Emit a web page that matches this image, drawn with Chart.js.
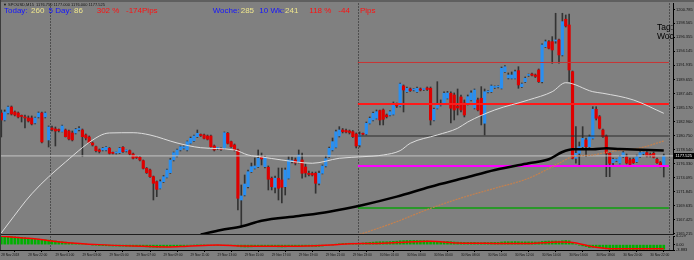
<!DOCTYPE html>
<html>
<head>
<meta charset="utf-8">
<script src="https://cdn.jsdelivr.net/npm/chart.js@4.4.1/dist/chart.umd.min.js"></script>
<style>
  html, body { margin: 0; padding: 0; background: #808080; }
  #wrap { position: relative; width: 694px; height: 260px; overflow: hidden; background: #808080; }
  #wrap canvas { position: absolute; left: 0; }
  #main { top: 0; }
  #sub { top: 235px; }
  #strip { position: absolute; left: 0; top: 0; width: 694px; height: 2px; background: #5f5f5f; }
  #edge { position: absolute; left: 0; top: 0; width: 1px; height: 250px; background: #3c3c3c; }
</style>
</head>
<body>
<div id="wrap">
  <canvas id="main" width="694" height="235"></canvas>
  <canvas id="sub" width="694" height="25"></canvas>
  <div id="strip"></div>
  <div id="edge"></div>
</div>
<script>
// M15 bars, 28 Nov 2018 evening .. 30 Nov 2018 close
var timeLabels = ["28 Nov 2018", "28 Nov 22:00", "29 Nov 01:00", "29 Nov 03:00", "29 Nov 05:00",
  "29 Nov 07:00", "29 Nov 09:00", "29 Nov 11:00", "29 Nov 13:00", "29 Nov 15:00", "29 Nov 17:00",
  "29 Nov 19:00", "29 Nov 21:00", "29 Nov 23:00", "30 Nov 01:00", "30 Nov 03:00", "30 Nov 05:00",
  "30 Nov 08:00", "30 Nov 10:00", "30 Nov 12:00", "30 Nov 14:00", "30 Nov 16:00", "30 Nov 18:00",
  "30 Nov 20:00", "30 Nov 22:00"];
var timeLabelBars = [0, 8, 16, 24, 32, 40, 48, 56, 64, 72, 80, 88, 96, 104, 112, 120, 128, 136,
  144, 152, 160, 168, 176, 184, 192];

var opens = [
  1184.34, 1183.23, 1184.34, 1185.29, 1184.50, 1184.34, 1183.87, 1183.71, 1183.55, 1183.55,
  1182.76, 1183.71, 1184.34, 1183.71, 1180.06, 1181.96, 1181.80, 1181.64, 1181.40, 1181.64,
  1181.48, 1181.17, 1181.17, 1181.72, 1181.64, 1180.85, 1180.53, 1179.58, 1178.99, 1178.47,
  1178.47, 1178.47, 1178.74, 1177.99, 1177.99, 1178.04, 1178.90, 1178.31, 1178.36,
  1177.83, 1177.36, 1177.31, 1176.77, 1175.56, 1175.29, 1174.23, 1173.44, 1172.39, 1173.44,
  1174.13, 1174.86, 1176.88, 1177.52, 1178.47, 1178.74, 1178.47, 1179.53, 1179.94, 1180.58,
  1180.85, 1180.85, 1180.69, 1180.69, 1179.10, 1178.71, 1178.71, 1178.74, 1181.12, 1179.79,
  1179.26, 1178.47, 1170.53, 1171.32, 1172.64, 1175.02, 1175.56, 1175.82, 1177.36, 1175.82,
  1175.72, 1173.98, 1172.55, 1173.98, 1173.71, 1172.64, 1173.98, 1176.61, 1176.88, 1176.61,
  1176.88, 1175.77, 1174.77, 1174.74, 1174.77, 1173.18, 1174.77, 1175.93, 1177.40, 1178.47,
  1178.90, 1180.69, 1181.64, 1181.56, 1181.48, 1181.37, 1181.01, 1179.26, 1181.01,
  1181.01, 1182.71, 1183.23, 1183.50, 1184.71, 1184.82, 1184.02, 1184.02, 1184.13, 1185.61,
  1185.45, 1188.63, 1187.72, 1188.15, 1187.99, 1187.72, 1188.15, 1188.07, 1188.31, 1188.26,
  1183.23, 1185.09, 1185.61, 1185.88, 1186.68, 1187.47, 1187.20, 1185.45, 1186.88, 1185.93,
  1185.88, 1186.41, 1185.13, 1186.41, 1186.68, 1182.71, 1187.68, 1187.72, 1188.39, 1188.47,
  1188.26, 1190.90, 1189.90, 1189.85, 1189.85, 1191.06, 1188.52, 1189.31, 1190.30, 1190.53,
  1190.37, 1191.17, 1189.31, 1194.87, 1195.66, 1195.66, 1195.77, 1195.93, 1193.55, 1199.22,
  1198.31, 1190.90, 1177.15, 1177.94, 1178.99, 1180.06, 1178.99, 1180.32, 1184.93,
  1183.75, 1181.64, 1180.69, 1177.94, 1176.45, 1176.80, 1176.36, 1177.40, 1177.36, 1176.88,
  1176.99, 1176.61, 1177.40, 1177.91, 1178.04, 1177.76, 1177.94, 1176.99, 1176.45, 1175.82
];
var highs = [
  1184.82, 1184.82, 1185.45, 1185.45, 1184.66, 1184.50, 1184.02, 1184.02, 1183.87, 1183.87,
  1183.71, 1184.50, 1184.50, 1184.50, 1182.28, 1182.28, 1182.12, 1181.80, 1182.44, 1181.80,
  1181.64, 1181.48, 1181.88, 1182.17, 1181.80, 1181.01, 1180.69, 1179.74, 1179.10, 1178.63,
  1178.87, 1179.02, 1178.87, 1178.15, 1178.15, 1178.87, 1179.02, 1178.47, 1178.47,
  1177.99, 1177.52, 1177.44, 1176.88, 1175.69, 1175.45, 1174.34, 1173.55, 1173.71, 1174.42,
  1175.45, 1177.12, 1178.15, 1178.63, 1179.10, 1179.10, 1179.90, 1180.53, 1180.85, 1181.64,
  1181.01, 1181.01, 1180.85, 1180.85, 1179.26, 1178.87, 1178.79, 1181.33, 1181.25, 1179.90,
  1179.42, 1178.63, 1172.91, 1174.50, 1175.29, 1176.40, 1177.20, 1178.47, 1177.99, 1177.52,
  1175.93, 1174.18, 1174.34, 1175.61, 1175.61, 1175.61, 1177.40, 1177.36, 1177.20, 1178.47,
  1177.99, 1176.25, 1175.13, 1174.97, 1174.97, 1175.13, 1176.09, 1177.52, 1178.94, 1180.37,
  1181.64, 1182.17, 1181.88, 1181.80, 1181.64, 1181.56, 1181.17, 1181.33, 1181.17,
  1182.91, 1183.71, 1184.50, 1184.82, 1184.82, 1184.98, 1184.18, 1184.74, 1186.09, 1185.93,
  1189.10, 1188.79, 1188.47, 1188.31, 1188.23, 1188.47, 1188.31, 1188.23, 1188.47, 1188.47,
  1185.13, 1189.31, 1186.41, 1187.68, 1187.76, 1187.68, 1187.52, 1188.15, 1187.20, 1186.41,
  1187.20, 1187.84, 1188.15, 1186.72, 1188.52, 1188.15, 1187.92, 1188.79, 1188.63, 1188.71,
  1191.64, 1191.88, 1190.69, 1190.85, 1191.17, 1191.69, 1189.10, 1190.06, 1190.53, 1190.69,
  1190.53, 1191.33, 1195.30, 1195.93, 1195.85, 1196.46, 1200.17, 1196.09, 1200.17, 1199.90,
  1200.06, 1191.01, 1182.17, 1179.74, 1182.17, 1180.37, 1180.85, 1185.34, 1185.34,
  1183.94, 1181.80, 1180.85, 1178.15, 1177.20, 1177.04, 1177.60, 1178.23, 1177.83, 1177.20,
  1177.20, 1177.67, 1178.23, 1178.15, 1178.23, 1177.99, 1178.15, 1177.20, 1176.64, 1177.83
];
var lows = [
  1180.53, 1183.07, 1184.18, 1184.02, 1183.87, 1183.55, 1182.91, 1181.96, 1182.91, 1182.44,
  1182.60, 1183.55, 1179.58, 1183.55, 1178.94, 1181.48, 1179.10, 1181.33, 1181.33, 1180.53,
  1180.06, 1179.90, 1181.01, 1181.48, 1177.40, 1180.06, 1179.58, 1179.10, 1178.15, 1177.99,
  1178.31, 1178.31, 1177.83, 1177.83, 1177.83, 1177.91, 1178.07, 1178.15, 1177.67,
  1177.04, 1177.12, 1176.72, 1175.45, 1174.74, 1174.10, 1170.53, 1171.06, 1172.28, 1173.31,
  1174.02, 1174.74, 1176.72, 1177.36, 1178.31, 1178.63, 1178.31, 1179.42, 1179.82, 1180.45,
  1180.61, 1180.21, 1180.06, 1178.87, 1178.31, 1178.55, 1178.39, 1178.63, 1179.42, 1178.87,
  1178.31, 1168.94, 1166.24, 1171.17, 1172.44, 1174.90, 1175.45, 1175.69, 1176.09, 1175.61,
  1172.12, 1172.12, 1171.64, 1170.53, 1170.05, 1171.32, 1173.86, 1176.40, 1176.09, 1176.40,
  1173.98, 1174.18, 1174.34, 1174.34, 1171.60, 1172.91, 1174.66, 1175.77, 1177.28, 1178.31,
  1178.79, 1180.53, 1181.17, 1181.17, 1181.01, 1180.45, 1178.79, 1178.94, 1180.85,
  1180.85, 1182.60, 1183.07, 1183.39, 1182.44, 1182.44, 1183.55, 1183.87, 1184.02, 1185.21,
  1185.29, 1184.50, 1187.60, 1187.76, 1187.84, 1187.60, 1187.84, 1187.91, 1187.91, 1182.44,
  1183.07, 1184.98, 1185.45, 1185.77, 1186.56, 1182.76, 1183.23, 1184.02, 1184.50, 1183.71,
  1185.61, 1186.25, 1184.98, 1184.66, 1182.44, 1180.85, 1187.52, 1187.60, 1188.23, 1188.31,
  1188.15, 1190.77, 1189.74, 1189.74, 1189.74, 1188.26, 1188.39, 1189.18, 1190.14, 1190.22,
  1189.98, 1189.18, 1189.10, 1194.74, 1194.50, 1192.23, 1195.41, 1192.23, 1193.39, 1197.99,
  1189.31, 1177.04, 1176.36, 1176.09, 1178.79, 1177.40, 1178.87, 1180.21, 1183.23,
  1181.80, 1180.45, 1174.23, 1174.23, 1176.09, 1176.64, 1176.25, 1177.28, 1176.25, 1176.09,
  1176.32, 1176.48, 1177.28, 1177.67, 1177.36, 1177.36, 1177.20, 1176.32, 1175.77, 1174.18
];
var closes = [
  1183.23, 1184.50, 1185.29, 1184.18, 1184.02, 1183.71, 1183.79, 1183.55, 1183.07, 1182.60,
  1183.55, 1184.34, 1179.74, 1184.34, 1182.12, 1181.72, 1181.48, 1181.56, 1182.28, 1180.58,
  1180.21, 1180.06, 1181.72, 1181.80, 1180.58, 1180.37, 1179.63, 1179.26, 1178.36, 1178.23,
  1178.74, 1178.90, 1177.94, 1177.94, 1178.04, 1178.74, 1178.20, 1178.39, 1177.83,
  1177.15, 1177.28, 1176.88, 1175.56, 1174.86, 1174.23, 1173.18, 1172.23, 1173.44, 1174.23,
  1175.29, 1176.88, 1178.04, 1178.47, 1178.99, 1178.99, 1179.79, 1180.32, 1180.69, 1181.12,
  1180.77, 1180.32, 1180.17, 1178.99, 1178.47, 1178.79, 1178.55, 1181.21, 1179.53, 1178.99,
  1178.47, 1170.80, 1171.17, 1173.07, 1175.02, 1175.82, 1175.93, 1177.15, 1177.04, 1177.31,
  1173.82, 1172.64, 1173.98, 1172.39, 1172.55, 1175.29, 1176.88, 1176.80, 1176.40, 1177.67,
  1174.77, 1174.82, 1174.58, 1174.50, 1173.18, 1174.77, 1175.93, 1177.09, 1178.74, 1179.79,
  1181.37, 1181.64, 1181.37, 1181.33, 1181.25, 1180.58, 1179.10, 1180.85, 1180.96,
  1182.71, 1183.50, 1184.29, 1184.55, 1183.23, 1183.34, 1183.75, 1184.55, 1185.88, 1185.45,
  1188.95, 1187.99, 1188.26, 1187.91, 1188.07, 1188.26, 1187.99, 1188.15, 1188.07, 1183.23,
  1184.93, 1185.61, 1185.85, 1187.47, 1187.52, 1185.09, 1184.82, 1185.13, 1184.82, 1184.02,
  1186.93, 1187.52, 1187.99, 1184.82, 1184.02, 1187.72, 1187.76, 1188.63, 1188.47, 1188.55,
  1191.44, 1191.69, 1190.37, 1190.37, 1190.90, 1188.79, 1188.95, 1189.85, 1190.37, 1190.33,
  1190.14, 1189.31, 1195.14, 1195.66, 1194.61, 1194.34, 1195.85, 1193.55, 1198.84, 1198.15,
  1191.17, 1177.15, 1177.94, 1178.99, 1180.32, 1178.99, 1180.58, 1184.93, 1183.50,
  1181.91, 1180.58, 1177.94, 1176.36, 1176.99, 1176.88, 1177.40, 1178.04, 1176.40, 1176.20,
  1176.45, 1177.40, 1178.04, 1177.99, 1177.52, 1177.60, 1177.31, 1176.45, 1175.93, 1177.525
];

// moving averages, read at bar positions
var whiteMaBars = [0, 2, 9, 19, 29, 32, 39, 44, 52, 59, 69, 73, 77, 83, 92, 100, 107, 113, 118,
  121, 129, 135, 138, 146, 156, 163, 167, 175, 178, 187, 196];
var whiteMaVals = [1165.29, 1166.72, 1171.50, 1176.56, 1180.69, 1181.17, 1181.21, 1180.85, 1179.58,
  1178.83, 1178.47, 1177.67, 1177.36, 1176.88, 1176.36, 1177.15, 1177.40, 1177.67, 1178.36,
  1179.53, 1180.85, 1181.91, 1182.91, 1184.82, 1186.41, 1187.72, 1189.15, 1187.72, 1187.47,
  1186.41, 1184.29];
var blackMaBars = [59, 65, 71, 77, 88, 97, 107, 117, 127, 137, 146, 156, 162, 166, 169, 175, 179, 183, 196];
var blackMaVals = [1165.06, 1165.77, 1166.32, 1167.24, 1167.99, 1168.67, 1169.74, 1171.06, 1172.64,
  1174.02, 1175.29, 1176.36, 1176.99, 1178.15, 1178.58, 1178.58, 1178.74, 1178.63, 1178.39];
var brownMaBars = [106, 110, 117, 127, 137, 146, 156, 165, 169, 175, 180, 189, 196];
var brownMaVals = [1165.06, 1165.77, 1167.09, 1169.21, 1171.01, 1172.39, 1173.98, 1176.36, 1177.40,
  1177.67, 1178.20, 1178.79, 1179.90];

// horizontal levels drawn from the 30 Nov day start
var levelValues = [1192.36, 1185.77, 1180.69, 1175.93, 1169.26];
var levelFromBar = 105.5, levelToBar = 197.5;
var bidPrice = 1177.525;
var separatorBars = [14.4, 105.5, 197.5];

var priceTickLabels = ["1200.785", "1198.565", "1196.355", "1194.145", "1191.935", "1189.655",
  "1187.445", "1185.170", "1182.960", "1180.750", "1178.540", "1176.330", "1174.095", "1171.845",
  "1169.635", "1167.425", "1165.215"];

// lower window oscillator
var oscMain = [
  6.2, 6.1, 6.0, 5.8, 5.6, 5.4, 5.2, 5.0, 4.7, 4.5, 4.2, 4.0, 3.8, 3.5, 3.2, 3.0, 2.7, 2.4,
  2.1, 1.8, 1.5, 1.2, 0.9, 0.7, 0.4, 0.2, 0.0, -0.2, -0.4, -0.6,
  -0.7, -0.8, -0.9, -1.0, -1.0, -1.1, -1.1, -1.2, -1.2, -1.3, -1.3,
  -1.4, -1.5, -1.6, -1.8, -1.9, -2.0, -1.9, -1.8, -1.6, -1.4, -1.2, -1.0,
  -0.8, -0.7, -0.5, -0.4, -0.3, -0.2, -0.2, -0.2, -0.3, -0.4, -0.5, -0.6,
  -0.6, -0.5, -0.5, -0.6, -0.7, -1.2, -1.6, -1.7, -1.7, -1.6, -1.5, -1.4,
  -1.3, -1.3, -1.4, -1.5, -1.5, -1.6, -1.7, -1.6, -1.4, -1.3, -1.2, -1.1,
  -1.1, -1.1, -1.2, -1.2, -1.3, -1.2, -1.0, -0.7, -0.4, -0.1, 0.3, 0.6,
  0.8, 0.9, 1.0, 1.0, 0.9, 0.9, 1.2, 1.4, 1.6, 1.8, 2.0,
  2.1, 2.1, 2.1, 2.2, 2.4, 2.5, 2.8, 2.9, 3.0, 3.0, 3.0, 3.0,
  2.9, 2.9, 2.8, 2.5, 2.3, 2.2, 2.2, 2.2, 2.3, 2.1, 1.9, 1.8,
  1.7, 1.6, 1.6, 1.6, 1.6, 1.5, 1.4, 1.5, 1.5, 1.6, 1.6, 1.6,
  1.9, 2.1, 2.1, 2.1, 2.2, 2.1, 2.0, 2.0, 2.0, 2.0, 1.9, 1.9,
  2.3, 2.5, 2.6, 2.6, 2.6, 2.5, 2.8, 3.0, 2.8, 1.3, 0.3, -0.4,
  -0.9, -1.4, -2.1, -2.0, -2.0,
  -2.2, -2.5, -3.0, -3.5, -3.8, -3.9, -3.9, -3.8, -3.8, -3.8, -3.8, -3.7,
  -3.6, -3.5, -3.4, -3.4, -3.4, -3.5, -3.5, -3.3
];
var oscSignalBars = [0, 9, 19, 29, 39, 49, 55, 64, 71, 77, 88, 99, 103, 109, 117, 127, 135, 146,
  156, 165, 169, 175, 180, 188, 196];
var oscSignalVals = [6.1, 4.4, 1.6, 0.0, -1.0, -1.7, -1.1, -0.2, -1.0, -1.1, -1.1, -0.1, 0.7, 0.8,
  1.5, 2.4, 1.2, 0.9, 0.8, 1.9, 1.6, -1.6, -2.9, -3.0, -3.0];
var oscTicks = [6.229, 0, -3.883];
var oscTickLabels = ["6.229", "0.00", "-3.883"];

var headerText = "\u25BC SPOUSD,M15  1176.750 1177.000 1176.000 1177.525";
var statTexts = ["Today:", "260", "5 Day:", "86", "302 %", "-174Pips",
  "Woche:", "285", "10 Wk:", "241", "118 %", "-44", "Pips"];
var statX = [4, 31, 48.5, 74, 96.7, 126, 212.7, 240.7, 259.3, 285, 309.3, 338.3, 360];
var statColor = ["#1414ff", "#eee58c", "#1414ff", "#eee58c", "#ff1010", "#ff1010",
  "#1414ff", "#eee58c", "#1414ff", "#eee58c", "#ff1010", "#ff1010", "#ff1010"];

var FONT = '"Liberation Sans", Arial, sans-serif';
Chart.defaults.font.family = FONT;

var X_MIN = -0.385, X_MAX = 198.73;
var BULL = "#2a8ff0", BEAR = "#de0000";

function pts(bars, vals) {
  return bars.map(function (b, i) { return { x: b, y: vals[i] }; });
}

var separators = {
  id: "separators",
  beforeDatasetsDraw: function (chart) {
    var ctx = chart.ctx, a = chart.chartArea, x = chart.scales.x;
    ctx.save();
    ctx.strokeStyle = "#4e4e4e";
    ctx.lineWidth = 1;
    ctx.setLineDash([2, 1]);
    separatorBars.forEach(function (b) {
      var px = Math.round(x.getPixelForValue(b)) + 0.5;
      ctx.beginPath();
      ctx.moveTo(px, a.top - 3);
      ctx.lineTo(px, a.bottom);
      ctx.stroke();
    });
    ctx.restore();
  }
};

var mainText = {
  id: "mainText",
  afterDraw: function (chart) {
    var ctx = chart.ctx, a = chart.chartArea, y = chart.scales.y;
    ctx.save();
    ctx.textBaseline = "alphabetic";
    ctx.fillStyle = "#111";
    ctx.font = "4px " + FONT;
    ctx.fillText(headerText, 3, 6);

    ctx.font = "8px " + FONT;
    statTexts.forEach(function (t, i) {
      ctx.fillStyle = statColor[i];
      ctx.fillText(t, statX[i], 13.3);
    });

    ctx.save();
    ctx.beginPath();
    ctx.rect(640, 15, a.right - 640, 30);
    ctx.clip();
    ctx.fillStyle = "#000";
    ctx.font = "8.5px " + FONT;
    ctx.fillText("Tag:", 657, 30);
    ctx.fillText("Woche:", 657, 39);
    ctx.restore();

    var py = y.getPixelForValue(bidPrice);
    ctx.fillStyle = "#000";
    ctx.fillRect(a.right + 1, Math.round(py) - 3, 694 - a.right - 1, 6);
    ctx.fillStyle = "#fff";
    ctx.font = "4px " + FONT;
    ctx.textBaseline = "middle";
    ctx.fillText(bidPrice.toFixed(3), a.right + 2.5, Math.round(py));
    ctx.restore();
  }
};

function levelSet(v, color, width) {
  return {
    type: "line", data: [{ x: levelFromBar, y: v }, { x: levelToBar, y: v }],
    borderColor: color, borderWidth: width, pointRadius: 0, order: 3
  };
}

new Chart(document.getElementById("main"), {
  type: "bar",
  data: {
    datasets: [
      {
        data: lows.map(function (l, i) { return { x: i, y: [l, highs[i]] }; }),
        backgroundColor: "#333333", barThickness: 1, grouped: false, order: 10
      },
      {
        data: opens.map(function (o, i) {
          return { x: i, y: [Math.min(o, closes[i]), Math.max(o, closes[i])] };
        }),
        backgroundColor: opens.map(function (o, i) { return closes[i] >= o ? BULL : BEAR; }),
        barThickness: 2.5, minBarLength: 1, grouped: false, order: 9
      },
      {
        type: "line", data: [{ x: X_MIN, y: bidPrice }, { x: X_MAX, y: bidPrice }],
        borderColor: "#c4c4c4", borderWidth: 1, pointRadius: 0, order: 4
      },
      levelSet(levelValues[0], "#c83434", 1),
      levelSet(levelValues[1], "#ff1a1a", 2),
      levelSet(levelValues[2], "#2a2a2a", 1.2),
      levelSet(levelValues[3], "#ff00ff", 2),
      levelSet(levelValues[4], "#0ea00e", 1.5),
      {
        type: "line", data: pts(whiteMaBars, whiteMaVals), borderColor: "#dcdcdc",
        borderWidth: 1, pointRadius: 0, cubicInterpolationMode: "monotone", order: 2
      },
      {
        type: "line", data: pts(brownMaBars, brownMaVals), borderColor: "#c4804e",
        borderWidth: 1.2, borderDash: [2, 1], pointRadius: 0, cubicInterpolationMode: "monotone", order: 2
      },
      {
        type: "line", data: pts(blackMaBars, blackMaVals), borderColor: "#000000",
        borderWidth: 2.5, pointRadius: 0, cubicInterpolationMode: "monotone", order: 1
      }
    ]
  },
  options: {
    responsive: false, animation: false, events: [],
    layout: { padding: { left: 0, right: 0, top: 3, bottom: 1 } },
    plugins: { legend: { display: false }, tooltip: { enabled: false } },
    scales: {
      x: {
        type: "linear", min: X_MIN, max: X_MAX, offset: false,
        ticks: { display: false }, grid: { display: false, drawTicks: false },
        border: { display: true, color: "#1e1e1e", width: 1 },
        afterFit: function (s) { s.height = 0; s.paddingLeft = 0; s.paddingRight = 0; }
      },
      y: {
        type: "linear", position: "right", min: 1165.13, max: 1201.80,
        afterBuildTicks: function (s) {
          s.ticks = priceTickLabels.map(function (t) { return { value: parseFloat(t) }; });
        },
        ticks: {
          autoSkip: false, padding: 1, color: "#111", font: { size: 4 },
          callback: function (v, i) { return priceTickLabels[i]; }
        },
        grid: { drawOnChartArea: false, drawTicks: true, tickLength: 2, color: "#000" },
        border: { display: true, color: "#000", width: 1 },
        afterFit: function (s) { s.width = 21; s.paddingTop = 0; s.paddingBottom = 0; }
      }
    }
  },
  plugins: [separators, mainText]
});

new Chart(document.getElementById("sub"), {
  type: "bar",
  data: {
    datasets: [
      {
        data: oscMain.map(function (v, i) { return { x: i, y: v }; }),
        backgroundColor: "#00b000", barThickness: 2, grouped: false, order: 2
      },
      {
        type: "line", data: pts(oscSignalBars, oscSignalVals), borderColor: "#ff0000",
        borderWidth: 1.5, pointRadius: 0, cubicInterpolationMode: "monotone", order: 1
      }
    ]
  },
  options: {
    responsive: false, animation: false, events: [],
    layout: { padding: { left: 0, right: 0, top: 1, bottom: 0 } },
    plugins: { legend: { display: false }, tooltip: { enabled: false } },
    scales: {
      x: {
        type: "linear", min: X_MIN, max: X_MAX, offset: false,
        afterBuildTicks: function (s) {
          s.ticks = timeLabelBars.map(function (b) { return { value: b }; });
        },
        ticks: {
          autoSkip: false, maxRotation: 0, minRotation: 0, align: "start", padding: 1,
          color: "#111", font: { size: 3.2 },
          callback: function (v, i) { return timeLabels[i]; }
        },
        grid: { drawOnChartArea: false, drawTicks: true, tickLength: 2, color: "#000" },
        border: { display: true, color: "#000", width: 1 },
        afterFit: function (s) { s.height = 10; s.paddingLeft = 0; s.paddingRight = 0; }
      },
      y: {
        type: "linear", position: "right", min: -3.883, max: 6.229,
        afterBuildTicks: function (s) {
          s.ticks = oscTicks.map(function (v) { return { value: v }; });
        },
        ticks: {
          autoSkip: false, padding: 1, color: "#111", font: { size: 4 },
          callback: function (v, i) { return oscTickLabels[i]; }
        },
        grid: { drawOnChartArea: false, drawTicks: true, tickLength: 2, color: "#000" },
        border: { display: true, color: "#000", width: 1 },
        afterFit: function (s) { s.width = 21; s.paddingTop = 0; s.paddingBottom = 0; }
      }
    }
  },
  plugins: [separators]
});
</script>
</body>
</html>
